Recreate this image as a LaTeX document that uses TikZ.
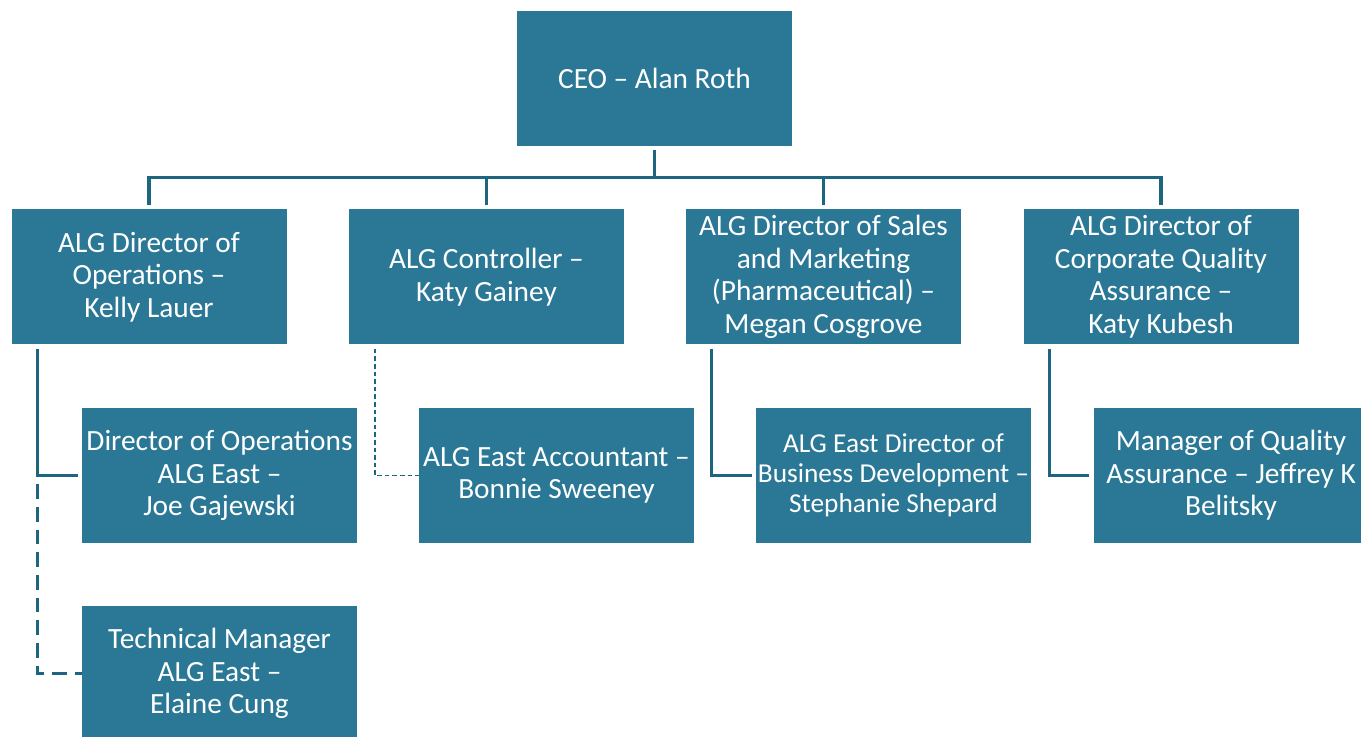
\documentclass[tikz,border=0pt]{standalone}
\usepackage{fontspec}
\setmainfont{Carlito}
\usepackage{xcolor}
\usetikzlibrary{positioning}
\definecolor{boxteal}{HTML}{2A7895}
\definecolor{lineteal}{HTML}{1E6680}
\tikzset{box/.style={rectangle,fill=boxteal,text=white,minimum width=206.25pt,minimum height=101.25pt,inner sep=0pt,align=center,font=\fontsize{22}{24.4}\selectfont},
    link/.style={draw=lineteal,line width=2.5pt},
    dashlink/.style={draw=lineteal,line width=2.5pt,dash pattern=on 11pt off 6pt},
    dotlink/.style={draw=lineteal,line width=1.2pt,dash pattern=on 3.5pt off 2.2pt}}

\begin{document}
\begin{tikzpicture}[x=0.75pt,y=-0.75pt]
    \useasboundingbox (0,0) rectangle (1361,737);

    \node[box] (ceo) at (654.5,78.5) {CEO -- Alan Roth};
    \node[box] (ops) at (149,277) {ALG Director of\\Operations --\\Kelly Lauer};
    \node[box] (ctrl) at (486.5,277) {ALG Controller --\\Katy Gainey};
    \node[box] (sales) at (823.5,277) {ALG Director of Sales\\and Marketing\\(Pharmaceutical) --\\Megan Cosgrove};
    \node[box] (qa) at (1161,277) {ALG Director of\\Corporate Quality\\Assurance --\\Katy Kubesh};
    \node[box] (joe) at (219.5,475.5) {Director of Operations\\ALG East --\\Joe Gajewski};
    \node[box] (bonnie) at (556.5,475.5) {ALG East Accountant --\\Bonnie Sweeney};
    \node[box,font=\fontsize{20.5}{22.5}\selectfont] (steph) at (893.5,475.5) {ALG East Director of\\Business Development --\\Stephanie Shepard};
    \node[box] (jeff) at (1231,475.5) {Manager of Quality\\Assurance -- Jeffrey K\\Belitsky};
    \node[box] (elaine) at (219.5,673.5) {Technical Manager\\ALG East --\\Elaine Cung};

    \coordinate (ceodrop) at ([shift={(0,4)}]ceo.south);
    \coordinate (opsdrop) at ([shift={(26,4)}]ops.south west);
    \coordinate (ctrldrop) at ([shift={(26,4)}]ctrl.south west);
    \coordinate (salesdrop) at ([shift={(26,4)}]sales.south west);
    \coordinate (qadrop) at ([shift={(26,4)}]qa.south west);

    \draw [link] (ceodrop) -- ++(0,27) -| ([shift={(0,-4)}]ops.north);
    \draw [link] (ceodrop) -- ++(0,27) -| ([shift={(0,-4)}]ctrl.north);
    \draw [link] (ceodrop) -- ++(0,27) -| ([shift={(0,-4)}]sales.north);
    \draw [link] (ceodrop) -- ++(0,27) -| ([shift={(0,-4)}]qa.north);
    \draw [link] (opsdrop) |- ([shift={(-4,0)}]joe.west);
    \draw [dashlink] ([shift={(0,9)}]opsdrop |- joe.west) |- (elaine.west);
    \draw [dotlink] (ctrldrop) |- (bonnie.west);
    \draw [link] (salesdrop) |- ([shift={(-4,0)}]steph.west);
    \draw [link] (qadrop) |- ([shift={(-4,0)}]jeff.west);
\end{tikzpicture}
\end{document}
